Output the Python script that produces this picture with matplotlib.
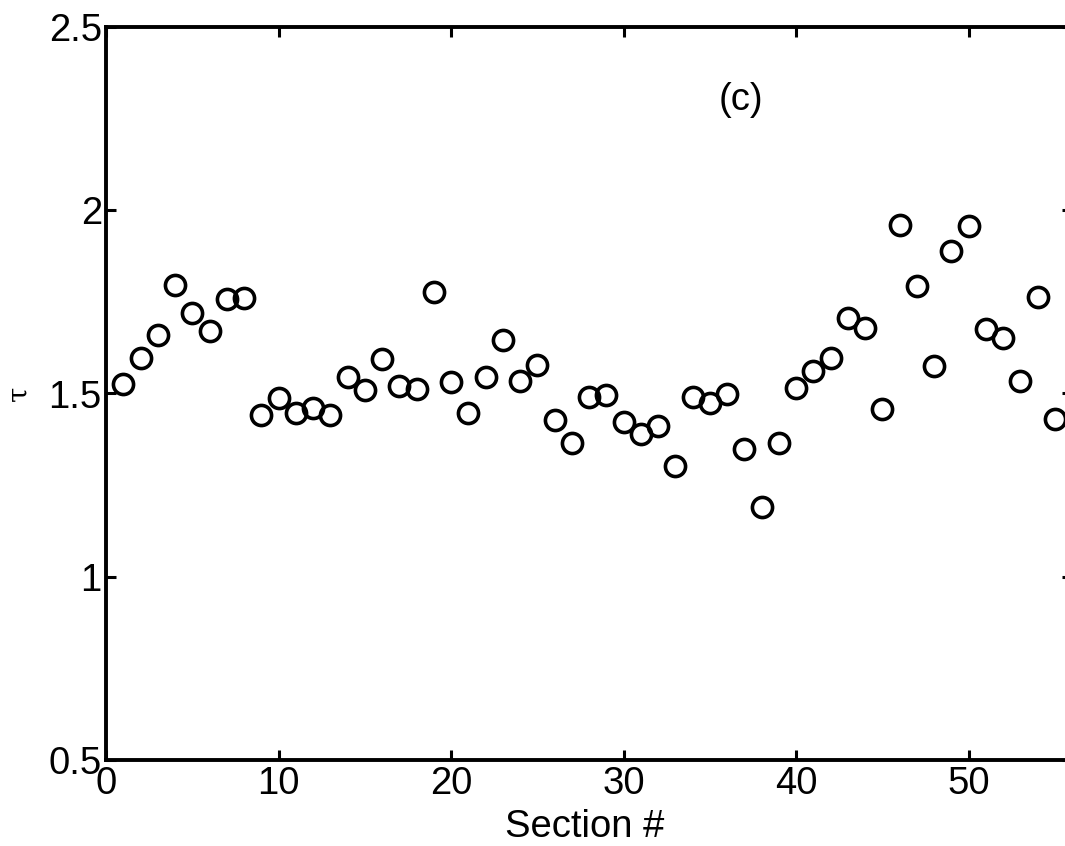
import matplotlib
matplotlib.use("Agg")
import matplotlib.pyplot as plt
import numpy as np

section = list(range(1, 56))
tau = [1.525, 1.596, 1.659, 1.796, 1.719, 1.671, 1.759, 1.761, 1.441, 1.487,
       1.446, 1.460, 1.441, 1.544, 1.510, 1.593, 1.520, 1.511, 1.776, 1.531,
       1.446, 1.544, 1.645, 1.533, 1.577, 1.428, 1.364, 1.490, 1.495, 1.421,
       1.389, 1.411, 1.302, 1.491, 1.473, 1.499, 1.349, 1.191, 1.364, 1.514,
       1.561, 1.596, 1.705, 1.678, 1.458, 1.960, 1.794, 1.576, 1.889, 1.958,
       1.675, 1.652, 1.534, 1.762, 1.430]
xticks = [0, 10, 20, 30, 40, 50]
yticks = [0.5, 1, 1.5, 2, 2.5]
ytick_labels = ["0.5", "1", "1.5", "2", "2.5"]

plt.rcParams['font.family'] = ['Liberation Sans', 'DejaVu Sans']

W, H = 1065, 846
fig = plt.figure(figsize=(W / 100, H / 100), dpi=100)
left, right, top, bottom = 106, 1072, 27, 760
ax = fig.add_axes([left / W, 1 - bottom / H, (right - left) / W, (bottom - top) / H])

ax.plot(section, tau, linestyle='none', marker='o', markersize=14.5,
        markerfacecolor='none', markeredgecolor='black', markeredgewidth=2.6,
        clip_on=False)

ax.set_xlim(0, 56)
ax.set_ylim(0.5, 2.5)
ax.set_xticks(xticks)
ax.set_yticks(yticks)
ax.set_yticklabels(ytick_labels)
for s in ax.spines.values():
    s.set_linewidth(2.8)
ax.tick_params(axis='both', which='major', direction='in', length=7.5, width=2.2,
               labelsize=27.5, top=True, right=True, color='black')
ax.tick_params(axis='x', pad=4.5)
ax.tick_params(axis='y', pad=3)

ax.text(36.8, 2.30, "(c)", fontsize=27.5, ha='center', va='center')

fig.text(585 / W, 1 - 837 / H, "Section #", fontsize=27.5, ha='center', va='baseline')
fig.text(19 / W, 1 - 393 / H, "\u03c4", fontsize=20, ha='center', va='center',
         rotation=90, family=['DejaVu Serif'])

fig.savefig("out.png", dpi=100)
